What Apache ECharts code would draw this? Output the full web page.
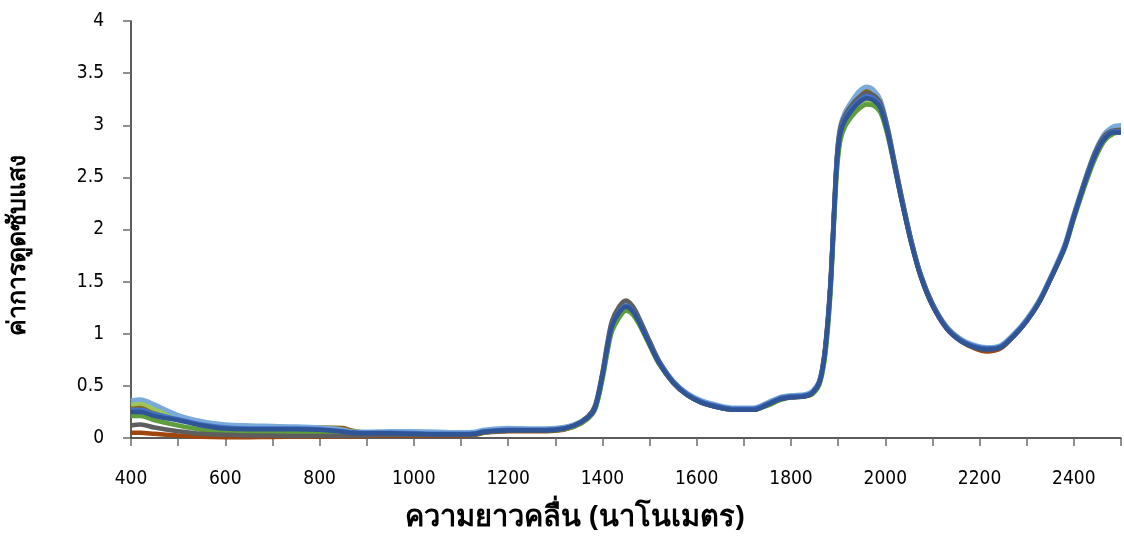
<!DOCTYPE html>
<html>
<head>
<meta charset="utf-8">
<script src="https://cdn.jsdelivr.net/npm/echarts@6/dist/echarts.min.js"></script>
<style>
  html, body { margin: 0; padding: 0; background: #fff; }
  #chart { width: 1124px; height: 556px; }
</style>
</head>
<body>
<div id="chart"></div>
<script>
// Wavelength grid (nm) shared by every spectrum
const wavelengths = [400,420,450,500,550,600,650,700,750,800,
  850,870,900,950,1000,1050,1100,1130,1150,1200,
  1250,1300,1340,1370,1385,1400,1410,1420,1435,1450,
  1465,1480,1500,1520,1550,1580,1610,1650,1680,1720,
  1750,1775,1800,1830,1845,1860,1870,1878,1885,1892,
  1898,1905,1915,1930,1945,1960,1975,1990,2005,2020,
  2035,2055,2075,2100,2130,2160,2190,2215,2245,2275,
  2300,2325,2350,2380,2400,2425,2445,2465,2485,2500];

// Absorbance spectra, one array per sample
const specOlive = [0.30,0.31,0.27,0.2,0.14,0.115,0.11,0.105,0.10,0.10,
  0.095,0.07,0.05,0.05,0.045,0.04,0.04,0.045,0.065,0.08,
  0.08,0.085,0.12,0.2,0.3,0.61,0.87,1.09,1.23,1.3,
  1.24,1.11,0.92,0.73,0.54,0.42,0.35,0.3,0.28,0.28,
  0.33,0.38,0.40,0.41,0.44,0.54,0.76,1.11,1.57,2.23,
  2.72,2.98,3.11,3.22,3.3,3.33,3.31,3.21,2.96,2.62,
  2.29,1.89,1.56,1.28,1.06,0.94,0.88,0.86,0.88,1.0,
  1.13,1.3,1.53,1.84,2.14,2.49,2.73,2.9,2.96,2.97];

const specBrown = [0.05,0.05,0.04,0.025,0.012,0.008,0.008,0.01,0.012,0.012,
  0.015,0.015,0.02,0.025,0.025,0.025,0.025,0.03,0.05,0.065,
  0.065,0.07,0.11,0.19,0.29,0.59,0.85,1.06,1.19,1.25,
  1.21,1.09,0.9,0.72,0.53,0.41,0.34,0.29,0.27,0.27,
  0.32,0.37,0.39,0.40,0.43,0.53,0.75,1.1,1.55,2.2,
  2.68,2.93,3.06,3.16,3.24,3.28,3.26,3.18,2.94,2.61,
  2.28,1.88,1.55,1.27,1.05,0.93,0.86,0.83,0.86,0.99,
  1.12,1.29,1.52,1.82,2.12,2.47,2.71,2.87,2.93,2.93];

const specLightGreen = [0.32,0.33,0.28,0.21,0.15,0.12,0.115,0.11,0.1,0.09,
  0.07,0.06,0.055,0.05,0.05,0.045,0.045,0.05,0.07,0.085,
  0.085,0.09,0.125,0.2,0.29,0.57,0.82,1.03,1.16,1.23,
  1.19,1.08,0.89,0.72,0.54,0.42,0.35,0.3,0.28,0.28,
  0.32,0.37,0.40,0.41,0.43,0.52,0.72,1.05,1.5,2.15,
  2.62,2.88,3.0,3.1,3.18,3.22,3.21,3.14,2.92,2.61,
  2.29,1.89,1.57,1.29,1.07,0.95,0.88,0.86,0.88,1.0,
  1.14,1.31,1.53,1.82,2.11,2.45,2.69,2.86,2.93,2.94];

const specGreen = [0.21,0.21,0.17,0.12,0.08,0.06,0.055,0.055,0.05,0.05,
  0.045,0.04,0.04,0.04,0.035,0.03,0.03,0.035,0.055,0.07,
  0.07,0.075,0.11,0.19,0.28,0.56,0.81,1.02,1.15,1.22,
  1.18,1.07,0.89,0.71,0.53,0.41,0.34,0.29,0.27,0.27,
  0.31,0.36,0.39,0.40,0.42,0.51,0.71,1.04,1.49,2.14,
  2.6,2.86,2.99,3.09,3.16,3.2,3.19,3.12,2.9,2.59,
  2.27,1.88,1.56,1.28,1.06,0.94,0.88,0.86,0.88,0.99,
  1.13,1.3,1.52,1.81,2.1,2.44,2.68,2.85,2.92,2.93];

const specGray = [0.12,0.13,0.1,0.065,0.04,0.03,0.025,0.025,0.02,0.02,
  0.02,0.02,0.025,0.03,0.03,0.03,0.03,0.035,0.055,0.07,
  0.07,0.075,0.12,0.21,0.32,0.63,0.9,1.12,1.26,1.32,
  1.26,1.13,0.93,0.74,0.54,0.42,0.34,0.29,0.27,0.27,
  0.32,0.37,0.39,0.40,0.43,0.54,0.78,1.14,1.6,2.25,
  2.74,2.98,3.1,3.2,3.27,3.31,3.29,3.21,2.97,2.64,
  2.31,1.9,1.57,1.29,1.06,0.94,0.87,0.85,0.87,0.99,
  1.12,1.29,1.52,1.83,2.13,2.49,2.74,2.9,2.95,2.95];

const specLightBlue = [0.36,0.37,0.32,0.22,0.16,0.13,0.12,0.115,0.11,0.10,
  0.08,0.06,0.06,0.065,0.065,0.06,0.055,0.06,0.08,0.095,
  0.09,0.095,0.13,0.21,0.31,0.61,0.87,1.09,1.23,1.29,
  1.24,1.11,0.92,0.74,0.55,0.43,0.36,0.31,0.29,0.29,
  0.34,0.39,0.41,0.42,0.45,0.55,0.77,1.12,1.58,2.24,
  2.74,3.0,3.13,3.24,3.33,3.37,3.34,3.24,2.98,2.64,
  2.3,1.9,1.57,1.29,1.07,0.95,0.89,0.87,0.89,1.01,
  1.14,1.31,1.54,1.85,2.15,2.5,2.75,2.92,2.99,3.0];

const specBlue = [0.27,0.27,0.23,0.18,0.13,0.1,0.09,0.09,0.09,0.085,
  0.065,0.055,0.05,0.05,0.045,0.04,0.04,0.045,0.065,0.08,
  0.08,0.085,0.12,0.2,0.3,0.6,0.86,1.08,1.21,1.27,
  1.22,1.1,0.91,0.73,0.54,0.42,0.35,0.3,0.28,0.28,
  0.33,0.38,0.40,0.41,0.44,0.54,0.76,1.11,1.56,2.21,
  2.7,2.95,3.07,3.17,3.24,3.28,3.26,3.18,2.94,2.61,
  2.28,1.88,1.56,1.28,1.06,0.94,0.88,0.86,0.88,1.0,
  1.13,1.3,1.53,1.83,2.13,2.48,2.72,2.88,2.94,2.94];

const specDarkBlue = [0.25,0.25,0.21,0.17,0.12,0.09,0.085,0.085,0.085,0.08,
  0.06,0.05,0.045,0.045,0.04,0.035,0.035,0.04,0.06,0.075,
  0.075,0.08,0.12,0.2,0.3,0.6,0.86,1.07,1.2,1.26,
  1.21,1.09,0.9,0.72,0.53,0.41,0.34,0.29,0.27,0.27,
  0.32,0.37,0.39,0.40,0.43,0.53,0.75,1.1,1.55,2.2,
  2.68,2.93,3.05,3.15,3.22,3.26,3.24,3.16,2.93,2.6,
  2.27,1.87,1.55,1.27,1.05,0.93,0.87,0.85,0.87,0.99,
  1.12,1.29,1.52,1.82,2.12,2.47,2.71,2.87,2.93,2.93];

// Drawing order: first listed sits underneath
const spectra = [
  { name: 'S1', color: '#8a6a10', values: specOlive },
  { name: 'S2', color: '#a0450c', values: specBrown },
  { name: 'S3', color: '#9cc65c', values: specLightGreen },
  { name: 'S4', color: '#5f9e3c', values: specGreen },
  { name: 'S5', color: '#7aa9dc', values: specLightBlue },
  { name: 'S6', color: '#5e5e5e', values: specGray },
  { name: 'S7', color: '#4472c4', values: specBlue },
  { name: 'S8', color: '#2f5597', values: specDarkBlue }
];

const yTicks = [0, 0.5, 1, 1.5, 2, 2.5, 3, 3.5, 4];
const xMin = 400, xMax = 2500, xTickStep = 100, xLabelStep = 200;

const numFont = '"DejaVu Sans Condensed", "DejaVu Sans", sans-serif';
const thaiFont = 'Tahoma, "Noto Sans", "DejaVu Sans", sans-serif';

const chart = echarts.init(document.getElementById('chart'), null, { renderer: 'canvas' });

chart.setOption({
  animation: false,
  backgroundColor: '#ffffff',
  grid: { left: 131, right: 1, top: 21, bottom: 118, containLabel: false },
  xAxis: {
    type: 'value',
    min: xMin,
    max: xMax,
    interval: xTickStep,
    axisLine: { show: true, lineStyle: { color: '#262626', width: 1.5 } },
    axisTick: { show: true, inside: false, length: 8, lineStyle: { color: '#6b6b6b', width: 1.5 } },
    axisLabel: {
      // ticks every 100 nm, labels every 200 nm
      margin: 32,
      color: '#000',
      fontSize: 19,
      fontFamily: numFont,
      formatter: v => ((v - xMin) % xLabelStep === 0 ? String(v) : '')
    },
    splitLine: { show: false }
  },
  yAxis: {
    type: 'value',
    min: yTicks[0],
    max: yTicks[yTicks.length - 1],
    interval: 0.5,
    axisLine: { show: true, lineStyle: { color: '#262626', width: 1.5 } },
    axisTick: { show: true, inside: false, length: 8, lineStyle: { color: '#6b6b6b', width: 1.5 } },
    axisLabel: {
      margin: 27,
      color: '#000',
      fontSize: 19,
      fontFamily: numFont
    },
    splitLine: { show: false }
  },
  graphic: [
    {
      type: 'text',
      x: 575,
      y: 518,
      style: {
        text: 'ความยาวคลื่น (นาโนเมตร)',
        fill: '#000',
        font: 'bold 29px ' + thaiFont,
        align: 'center',
        verticalAlign: 'middle'
      }
    },
    {
      type: 'text',
      x: 18,
      y: 245,
      rotation: Math.PI / 2,
      style: {
        text: 'ค่าการดูดซับแสง',
        fill: '#000',
        font: 'bold 25px ' + thaiFont,
        align: 'center',
        verticalAlign: 'middle'
      }
    }
  ],
  series: spectra.map(s => ({
    type: 'line',
    name: s.name,
    data: wavelengths.map((w, i) => [w, s.values[i]]),
    showSymbol: false,
    smooth: 0.3,
    lineStyle: { color: s.color, width: 4.5 },
    itemStyle: { color: s.color },
    z: 2
  }))
});
</script>
</body>
</html>
